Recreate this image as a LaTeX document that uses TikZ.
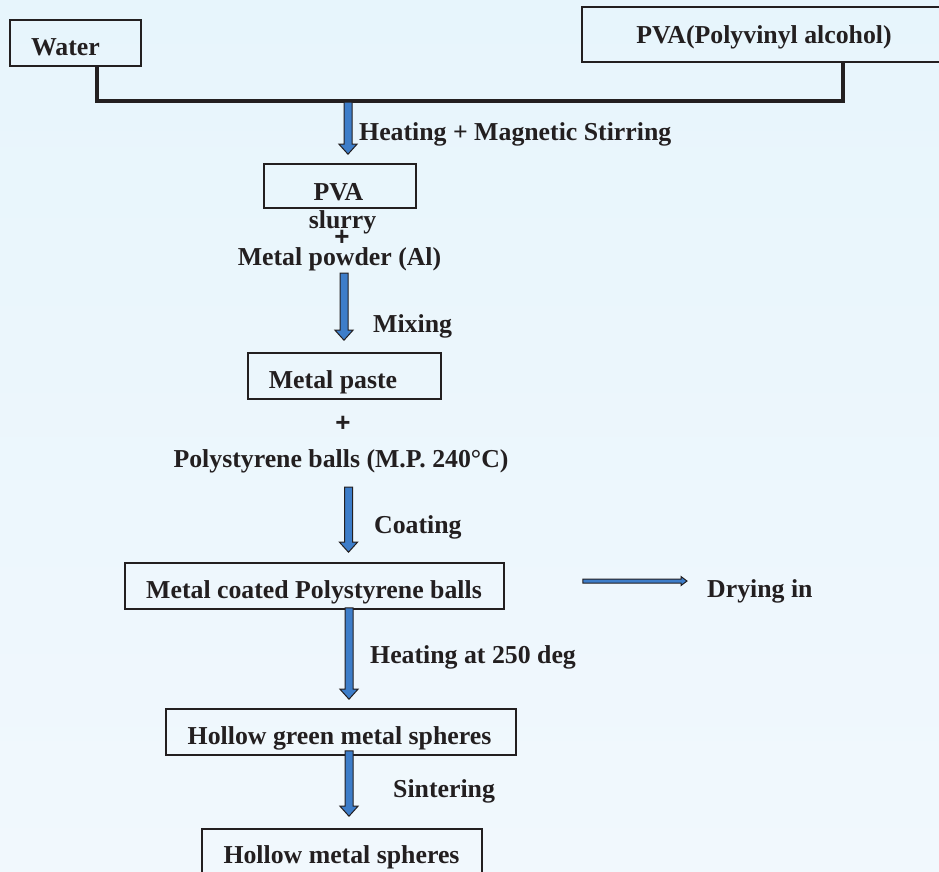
\documentclass[tikz,border=0pt]{standalone}
\usepackage{fontspec}
\setmainfont{Liberation Serif}
\newfontfamily\plusfont{Liberation Sans}
\usetikzlibrary{calc}

\definecolor{bgtop}{RGB}{231,245,252}
\definecolor{bgbot}{RGB}{241,248,253}
\definecolor{arrowblue}{RGB}{61,125,201}
\definecolor{ink}{RGB}{35,31,32}

\tikzset{
  box/.style={draw=ink, line width=1.6pt, inner sep=0pt},
  lbl/.style={text=ink, font=\fontsize{25.8}{28}\selectfont\bfseries, inner sep=0pt},
  plus/.style={text=ink, font=\plusfont\fontsize{26}{28}\selectfont\bfseries, inner sep=0pt},
  feed/.style={draw=ink, line width=4pt, line join=miter},
  fatarrow/.style={fill=arrowblue, draw=ink, line width=1pt, line join=miter},
}

% block arrow pointing down, x taken from the tail
\newcommand{\blockarrow}[2]{%
  \draw[fatarrow] let \p1=(#1), \p2=(#2) in
    (\x1-4pt,\y1) -- (\x1+4pt,\y1) -- (\x1+4pt,\y2+10pt) -- (\x1+9pt,\y2+10pt)
    -- (\x1,\y2) -- (\x1-9pt,\y2+10pt) -- (\x1-4pt,\y2+10pt) -- cycle;}
% thin arrow pointing right, y taken from the tail
\newcommand{\sidearrow}[2]{%
  \draw[fatarrow] let \p1=(#1), \p2=(#2) in
    (\x1,\y1+2pt) -- (\x2-6pt,\y1+2pt) -- (\x2-6pt,\y1+4.5pt) -- (\x2,\y1)
    -- (\x2-6pt,\y1-4.5pt) -- (\x2-6pt,\y1-2pt) -- (\x1,\y1-2pt) -- cycle;}

\begin{document}
\begin{tikzpicture}[x=1pt, y=-1pt]
  \useasboundingbox (0,0) rectangle (939,871);
  \clip (0,0) rectangle (939,871);
  \fill[top color=bgtop, bottom color=bgbot] (0,0) rectangle (939,871);

  % boxes
  \node[box, minimum width=131pt, minimum height=46pt] (water) at (75.5,43) {};
  \node[box, minimum width=363pt, minimum height=55pt] (pvaSrc) at (763.5,34.5) {};
  \node[box, minimum width=152pt, minimum height=44pt] (pva) at (340,186) {};
  \node[box, minimum width=193pt, minimum height=46pt] (paste) at (344.5,376) {};
  \node[box, minimum width=379pt, minimum height=46pt] (coated) at (314.5,586) {};
  \node[box, minimum width=350pt, minimum height=46pt] (green) at (341,732) {};
  \node[box, minimum width=280pt, minimum height=46pt] (hollow) at (342,852) {};

  % texts
  \node[lbl, anchor=base] (waterTxt) at (65.5,55) {Water};
  \node[lbl, anchor=base] (pvaSrcTxt) at (764,43) {PVA(Polyvinyl alcohol)};
  \node[lbl, anchor=base] (pvaTxt) at (338.5,200) {PVA};
  \node[lbl, anchor=base] (slurry) at (342.5,228) {slurry};
  \node[plus] (plusA) at (342,237.5) {+};
  \node[lbl, anchor=base] (powder) at (339.5,265) {Metal powder (Al)};
  \node[lbl, anchor=base] (pasteTxt) at (333,388) {Metal paste};
  \node[plus] (plusB) at (343,423.5) {+};
  \node[lbl, anchor=base] (poly) at (341,467) {Polystyrene balls (M.P. 240\textdegree C)};
  \node[lbl, anchor=base] (coatedTxt) at (314,598) {Metal coated Polystyrene balls};
  \node[lbl, anchor=base] (greenTxt) at (339.5,744) {Hollow green metal spheres};
  \node[lbl, anchor=base] (hollowTxt) at (341.5,863) {Hollow metal spheres};

  % step labels
  \node[lbl, anchor=base west] (heatA) at (359,140) {Heating + Magnetic Stirring};
  \node[lbl, anchor=base west] (mix) at (373,332) {Mixing};
  \node[lbl, anchor=base west] (coat) at (374,533) {Coating};
  \node[lbl, anchor=base west] (dry) at (707,597) {Drying in};
  \node[lbl, anchor=base west] (heatB) at (370,663) {Heating at 250 deg};
  \node[lbl, anchor=base west] (sinter) at (393,797) {Sintering};

  % feed lines
  \coordinate (join) at (348,101);
  \draw[feed] ([xshift=21.5pt]water.south) |- (join) -| ([xshift=79pt]pvaSrc.south);

  % arrows
  \blockarrow{[yshift=-1pt]join}{[yshift=9pt]pva.north}
  \blockarrow{[xshift=4.5pt,yshift=-8pt]powder.base}{[yshift=12pt]paste.north}
  \blockarrow{[xshift=7.5pt,yshift=-20pt]poly.base}{[yshift=10pt]coated.north}
  \blockarrow{[xshift=34.5pt,yshift=2pt]coated.south}{[yshift=9pt]green.north}
  \blockarrow{[xshift=8pt,yshift=5pt]green.south}{[yshift=12pt]hollow.north}
  \sidearrow{[xshift=78pt,yshift=5pt]coated.east}{[xshift=-20pt]dry.base west}
\end{tikzpicture}
\end{document}
